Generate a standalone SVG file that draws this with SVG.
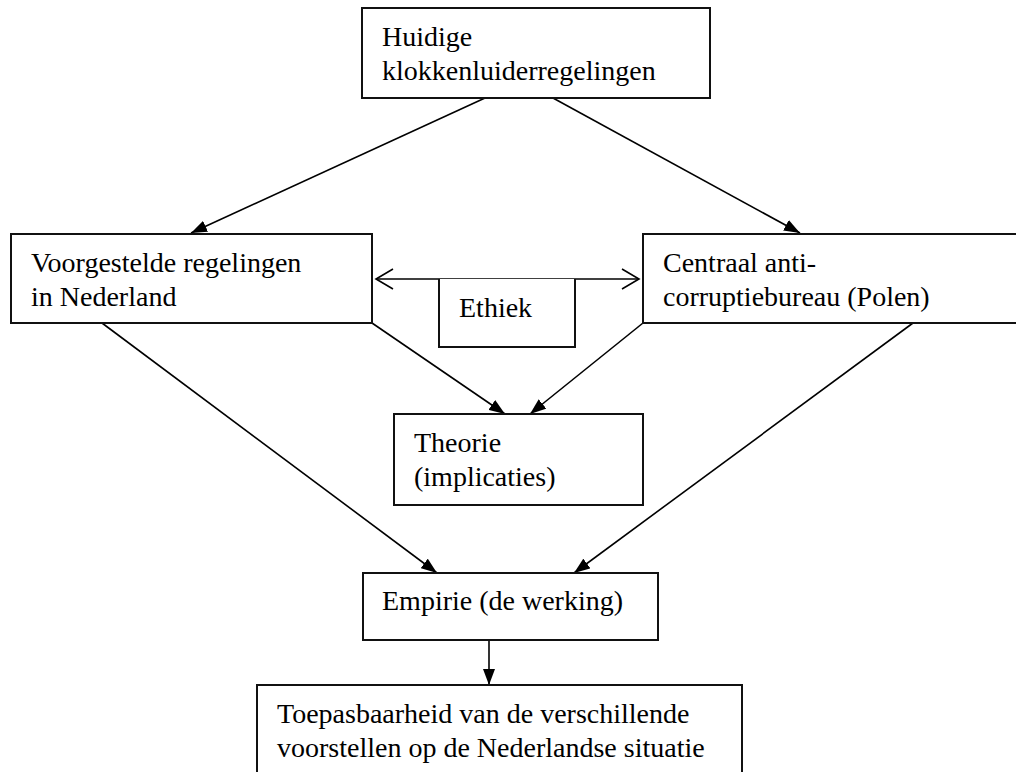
<svg xmlns="http://www.w3.org/2000/svg" width="1016" height="772" viewBox="0 0 1016 772">
<style>
.box{fill:#fff;stroke:#111;stroke-width:2}
.ln{stroke:#000;stroke-width:1.6;fill:none}
text{font-family:'Liberation Serif','DejaVu Serif',serif;font-size:28px;fill:#000}
</style>
<defs>
<marker id="ah" markerUnits="userSpaceOnUse" markerWidth="16" markerHeight="12" refX="16" refY="6" orient="auto">
<path d="M0,0 L16,6 L0,12 z" fill="#000"/>
</marker>
<marker id="oa" markerUnits="userSpaceOnUse" markerWidth="20" markerHeight="22" refX="18" refY="11" orient="auto-start-reverse">
<path d="M1,1 L18,11 L1,21" fill="none" stroke="#000" stroke-width="1.6"/>
</marker>
</defs>
<rect width="1016" height="772" fill="#fff"/>
<g id="connectors">
<line class="ln" x1="485" y1="98" x2="191" y2="233" marker-end="url(#ah)"/>
<line class="ln" x1="553" y1="98" x2="800" y2="233" marker-end="url(#ah)"/>
<line class="ln" x1="376" y1="279" x2="639" y2="279" marker-start="url(#oa)" marker-end="url(#oa)"/>
<line class="ln" x1="372" y1="323" x2="505" y2="414" marker-end="url(#ah)"/>
<line class="ln" x1="643" y1="323" x2="530" y2="414" marker-end="url(#ah)"/>
<line class="ln" x1="102" y1="323" x2="437" y2="573" marker-end="url(#ah)"/>
<line class="ln" x1="913" y1="323" x2="574" y2="573" marker-end="url(#ah)"/>
<line class="ln" x1="489" y1="640" x2="489" y2="685" marker-end="url(#ah)"/>
</g>
<g id="huidige">
<rect class="box" x="362" y="8" width="348" height="90"/>
<text x="382" y="46" font-family="Liberation Serif, serif">Huidige</text>
<text x="382" y="80" font-family="Liberation Serif, serif">klokkenluiderregelingen</text>
</g>
<g id="voorgesteld">
<rect class="box" x="11" y="234" width="361" height="89"/>
<text x="31" y="272" font-family="Liberation Serif, serif">Voorgestelde regelingen</text>
<text x="31" y="306" font-family="Liberation Serif, serif">in Nederland</text>
</g>
<g id="centraal">
<rect class="box" x="643" y="234" width="400" height="89"/>
<text x="663" y="272" font-family="Liberation Serif, serif">Centraal anti-</text>
<text x="663" y="306" font-family="Liberation Serif, serif">corruptiebureau (Polen)</text>
</g>
<g id="ethiek">
<path class="box" d="M439,279 V347 H575 V279"/>
<text x="459" y="317" font-family="Liberation Serif, serif">Ethiek</text>
</g>
<g id="theorie">
<rect class="box" x="394" y="414" width="249" height="91"/>
<text x="414" y="452" font-family="Liberation Serif, serif">Theorie</text>
<text x="414" y="486" font-family="Liberation Serif, serif">(implicaties)</text>
</g>
<g id="empirie">
<rect class="box" x="363" y="573" width="295" height="67"/>
<text x="382" y="610" font-family="Liberation Serif, serif">Empirie (de werking)</text>
</g>
<g id="toepas">
<rect class="box" x="257" y="685" width="485" height="100"/>
<text x="277" y="723" font-family="Liberation Serif, serif">Toepasbaarheid van de verschillende</text>
<text x="277" y="757" font-family="Liberation Serif, serif">voorstellen op de Nederlandse situatie</text>
</g>
</svg>
